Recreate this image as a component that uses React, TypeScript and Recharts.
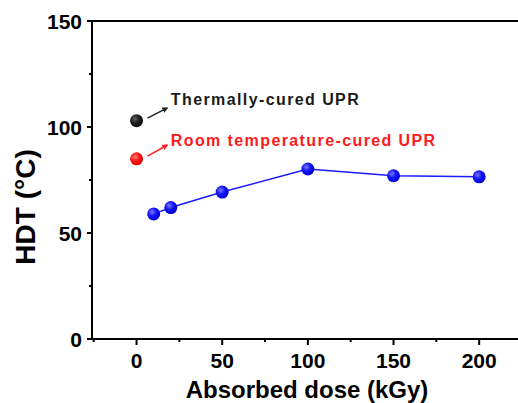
import React from "react";
import {
  ReferenceDot,
  ReferenceLine,
  Scatter,
  ScatterChart,
  XAxis,
  YAxis,
} from "recharts";

// absorbed dose (kGy) vs HDT (°C)
const doses = [10, 20, 50, 100, 150, 200];
const hdtIrradiated = [59, 62, 69.3, 80.2, 77, 76.5];
const hdtThermal = 103;
const hdtRoomTemp = 85;

const xTicks = [-25, 0, 25, 50, 75, 100, 125, 150, 175, 200, 225];
const yTicks = [0, 25, 50, 75, 100, 125, 150];

const irradiated = doses.map((x, i) => ({ x, y: hdtIrradiated[i] }));
const thermal = [{ x: 0, y: hdtThermal }];
const roomTemp = [{ x: 0, y: hdtRoomTemp }];

const FONT = "'Liberation Sans', Arial, sans-serif";

const XTick = ({ x, y, payload }: any) => {
  const major = payload.value % 50 === 0;
  return (
    <g>
      <line x1={x} x2={x} y1={y} y2={y + (major ? 6 : 3)} stroke="#000" strokeWidth={2} />
      {major && (
        <text x={x} y={y + 29} textAnchor="middle" fontSize={21} fontWeight="bold" fontFamily={FONT} fill="#000">
          {payload.value}
        </text>
      )}
    </g>
  );
};

const YTick = ({ x, y, payload }: any) => {
  const major = payload.value % 50 === 0;
  return (
    <g>
      <line x1={x} x2={x - (major ? 5 : 3)} y1={y} y2={y} stroke="#000" strokeWidth={2} />
      {major && (
        <text x={x - 10} y={y + 7.5} textAnchor="end" fontSize={21} fontWeight="bold" fontFamily={FONT} fill="#000">
          {payload.value}
        </text>
      )}
    </g>
  );
};

const dot = (grad: string) => (p: any) => <circle cx={p.cx} cy={p.cy} r={6.5} fill={`url(#${grad})`} />;

const arrow = (color: string, marker: string) => (p: any) =>
  <line x1={p.x1} y1={p.y1} x2={p.x2} y2={p.y2} stroke={color} strokeWidth={1.5} markerEnd={`url(#${marker})`} />;

const note = (text: string, color: string) => (p: any) => {
  const vb = p.viewBox;
  return (
    <text
      x={vb.x}
      y={vb.y + 6}
      fontSize={16}
      fontWeight="bold"
      letterSpacing={1.4}
      fontFamily={FONT}
      fill={color}
    >
      {text}
    </text>
  );
};

const YTitle = (p: any) => {
  const vb = p.viewBox;
  const cx = 25;
  const cy = vb.y + vb.height / 2 + 27;
  return (
    <text
      x={cx}
      y={cy}
      transform={`rotate(-90, ${cx}, ${cy})`}
      textAnchor="middle"
      dominantBaseline="central"
      fontSize={28}
      fontWeight="bold"
      fontFamily={FONT}
      fill="#000"
    >
      HDT (°C)
    </text>
  );
};

export default function App() {
  return (
    <div style={{ position: "fixed", left: 0, top: 0, width: 518, height: 403, overflow: "hidden", background: "#fff" }}>
      <ScatterChart width={530} height={403} margin={{ top: 21, right: 8, left: 0, bottom: 0 }}>
        <defs>
          <radialGradient id="gBlue" cx="38%" cy="35%" r="65%">
            <stop offset="0%" stopColor="#7a7aff" />
            <stop offset="50%" stopColor="#1414f5" />
            <stop offset="100%" stopColor="#0000d8" />
          </radialGradient>
          <radialGradient id="gBlack" cx="38%" cy="35%" r="65%">
            <stop offset="0%" stopColor="#666" />
            <stop offset="50%" stopColor="#1e1e1e" />
            <stop offset="100%" stopColor="#111" />
          </radialGradient>
          <radialGradient id="gRed" cx="38%" cy="35%" r="65%">
            <stop offset="0%" stopColor="#ff7a7a" />
            <stop offset="50%" stopColor="#ff1a1a" />
            <stop offset="100%" stopColor="#e00000" />
          </radialGradient>
          <marker id="arrBlack" markerWidth="6" markerHeight="6" refX="5" refY="3" orient="auto" markerUnits="userSpaceOnUse">
            <path d="M0,0 L6,3 L0,6 z" fill="#222" />
          </marker>
          <marker id="arrRed" markerWidth="6" markerHeight="6" refX="5" refY="3" orient="auto" markerUnits="userSpaceOnUse">
            <path d="M0,0 L6,3 L0,6 z" fill="#ff2020" />
          </marker>
        </defs>
        <XAxis
          type="number"
          dataKey="x"
          domain={[-26, 225]}
          ticks={xTicks}
          interval={0}
          height={64}
          tickSize={0}
          tickMargin={0}
          tickLine={false}
          tick={<XTick />}
          axisLine={{ stroke: "#000", strokeWidth: 2 }}
          label={{
            value: "Absorbed dose (kGy)",
            position: "insideBottom",
            offset: 5,
            fontSize: 24,
            fontWeight: "bold",
            fontFamily: FONT,
            fill: "#000",
          }}
        />
        <YAxis
          type="number"
          dataKey="y"
          domain={[0, 150]}
          ticks={yTicks}
          interval={0}
          width={92}
          tickSize={0}
          tickMargin={0}
          tickLine={false}
          tick={<YTick />}
          axisLine={{ stroke: "#000", strokeWidth: 2 }}
          label={{ content: YTitle }}
        />
        <ReferenceLine y={150} stroke="#000" strokeWidth={2} />
        <ReferenceLine
          segment={[{ x: 6.4, y: 104.2 }, { x: 18, y: 109 }]}
          shape={arrow("#222", "arrBlack")}
        />
        <ReferenceLine
          segment={[{ x: 6.4, y: 86.3 }, { x: 18, y: 91.5 }]}
          shape={arrow("#ff2020", "arrRed")}
        />
        <ReferenceDot x={20} y={113} r={0} stroke="none" label={{ content: note("Thermally-cured UPR", "#1a1a1a") }} />
        <ReferenceDot x={20} y={94} r={0} stroke="none" label={{ content: note("Room temperature-cured UPR", "#ff1a1a") }} />
        <Scatter data={thermal} shape={dot("gBlack")} isAnimationActive={false} />
        <Scatter data={roomTemp} shape={dot("gRed")} isAnimationActive={false} />
        <Scatter
          data={irradiated}
          line={{ stroke: "#1a1aff", strokeWidth: 1.5 }}
          shape={dot("gBlue")}
          isAnimationActive={false}
        />
      </ScatterChart>
    </div>
  );
}
